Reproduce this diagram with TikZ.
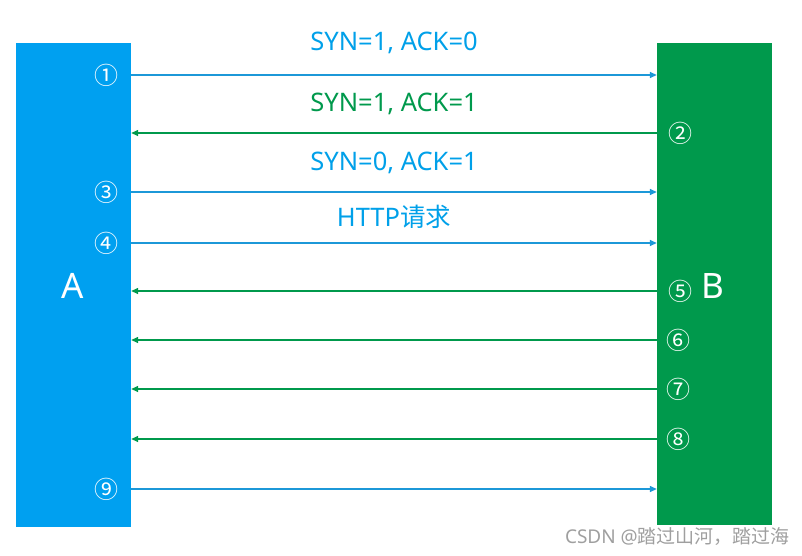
\documentclass[tikz,border=0pt]{standalone}
\usepackage{fontspec}
\setmainfont{Noto Sans}
\newfontfamily\cjk{Noto Sans CJK SC}
\usepackage{xcolor}
\usetikzlibrary{arrows.meta,positioning}
\definecolor{hostblue}{HTML}{00A0F0}
\definecolor{hostgreen}{HTML}{00994C}
\definecolor{lineblue}{HTML}{1C98D8}
\definecolor{textblue}{HTML}{00A0E9}
\tikzset{
    host-bar/.style = {rectangle, inner sep=0pt, minimum width=115pt, minimum height=484pt},
    host-name/.style = {text=white, font=\fontsize{35}{35}\selectfont},
    step-num/.style = {text=white, inner sep=0pt, font=\cjk\fontsize{24}{24}\selectfont},
    msg-label/.style = {inner sep=0pt, font=\fontsize{25.5}{25.5}\selectfont},
    to-b/.style = {draw=lineblue, line width=1.4pt, -{Triangle[length=7pt,width=6pt]}},
    to-a/.style = {draw=hostgreen, line width=1.4pt, -{Triangle[length=7pt,width=6pt]}},
}
\begin{document}
\begin{tikzpicture}[x=1pt,y=-1pt]
\useasboundingbox (0,0) rectangle (802,555);
\node [host-bar, fill=hostblue] (A) at (73.5,285) {};
\node [host-bar, fill=hostgreen, minimum height=482pt] (B) at (714.5,284) {};
\node [host-name] (la) at (73,286) {A};
\node [host-name] (lb) at (713,286) {B};

% step numbers
\node [step-num] (n1) at (106,75) {①};
\node [step-num] (n2) at (680,133) {②};
\node [step-num] (n3) at (106,192) {③};
\node [step-num] (n4) at (106,243) {④};
\node [step-num] (n5) at (680,291) {⑤};
\node [step-num] (n6) at (678,340) {⑥};
\node [step-num] (n7) at (678,389) {⑦};
\node [step-num] (n8) at (678,439) {⑧};
\node [step-num] (n9) at (106,489) {⑨};

\draw [to-b] (A.east |- n1) -- (B.west |- n1);
\draw [to-a] (B.west |- n2) -- (A.east |- n2);
\draw [to-b] (A.east |- n3) -- (B.west |- n3);
\draw [to-b] (A.east |- n4) -- (B.west |- n4);
\draw [to-a] (B.west |- n5) -- (A.east |- n5);
\draw [to-a] (B.west |- n6) -- (A.east |- n6);
\draw [to-a] (B.west |- n7) -- (A.east |- n7);
\draw [to-a] (B.west |- n8) -- (A.east |- n8);
\draw [to-b] (A.east |- n9) -- (B.west |- n9);

% message labels
\node [msg-label, text=textblue] (m1) at (394,43) {SYN=1, ACK=0};
\node [msg-label, text=hostgreen] (m2) at (394,104) {SYN=1, ACK=1};
\node [msg-label, text=textblue] (m3) at (394,163) {SYN=0, ACK=1};
\node [msg-label, text=textblue] (m4) at (394,217) {HTTP{\cjk 请求}};

\node [text=gray!75, inner sep=0pt, font=\fontsize{19}{19}\selectfont, anchor=east] (mark) at (790,537) {CSDN @{\cjk 踏过山河，踏过海}};
\end{tikzpicture}
\end{document}
